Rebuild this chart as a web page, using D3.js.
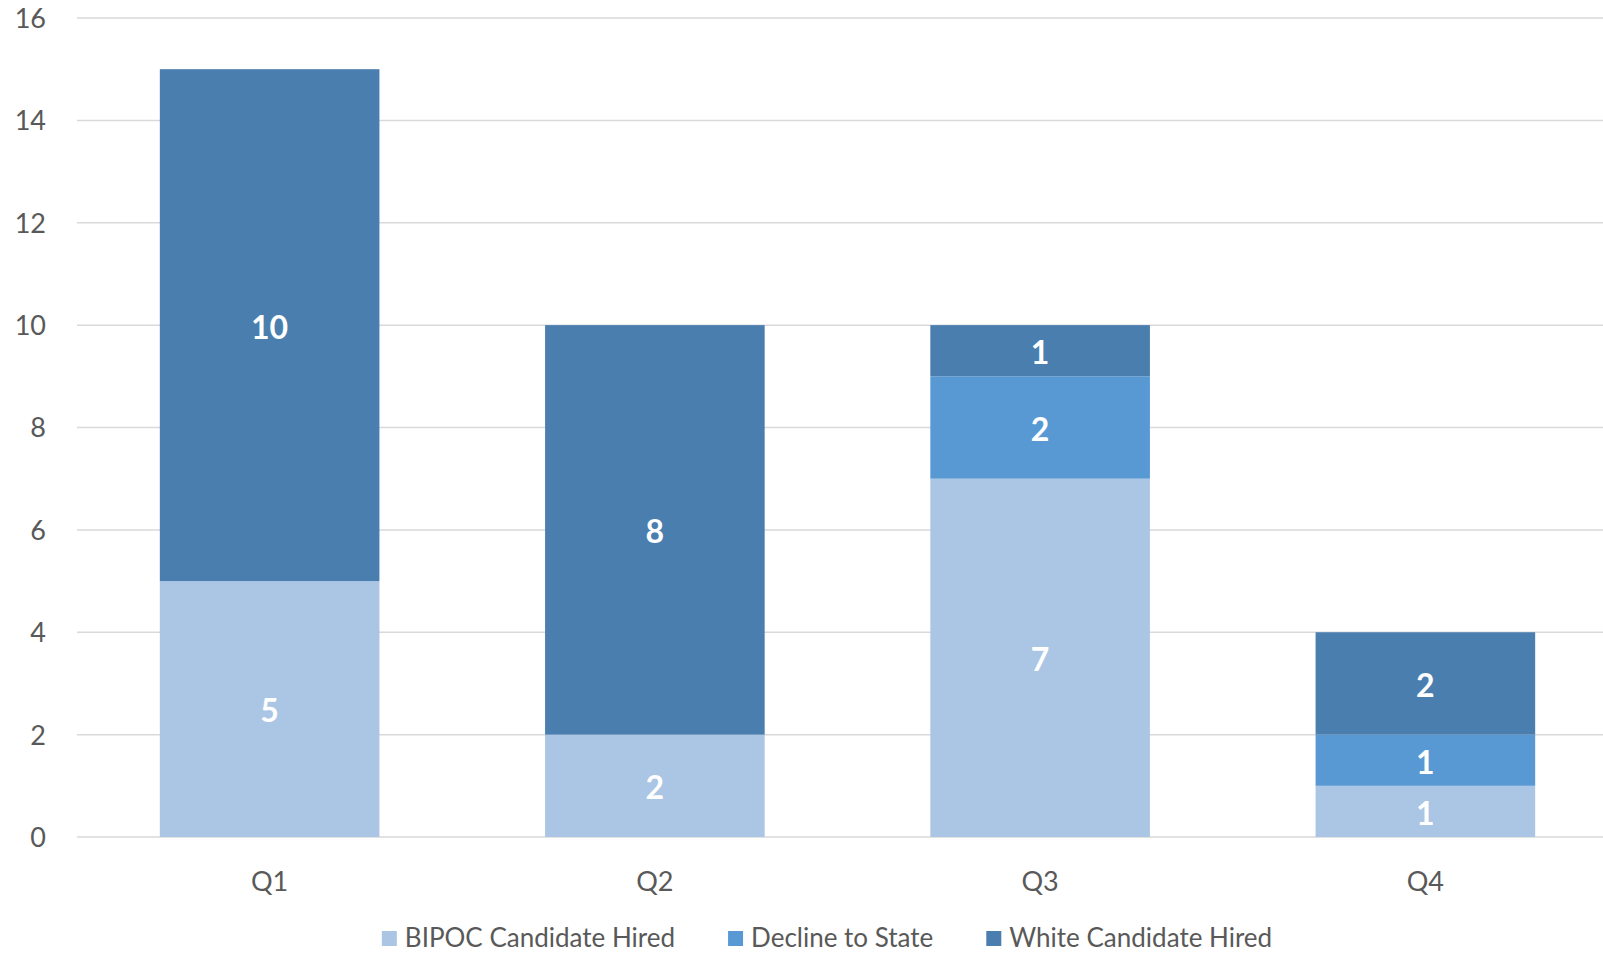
<!DOCTYPE html>
<html><head><meta charset="utf-8">
<script src="https://cdn.jsdelivr.net/npm/d3@7"></script>
<style>
html,body{margin:0;padding:0;background:#fff;overflow:hidden;}
svg{display:block;font-family:Lato, "Open Sans", sans-serif;}
</style></head>
<body>
<svg id="chart" width="1603" height="955"></svg>
<script>
const categories = ["Q1", "Q2", "Q3", "Q4"];
const seriesNames = ["BIPOC Candidate Hired", "Decline to State", "White Candidate Hired"];
const bipoc = [5, 2, 7, 1];
const decline = [0, 0, 2, 1];
const white = [10, 8, 1, 2];
const yTicks = [0, 2, 4, 6, 8, 10, 12, 14, 16];
const colors = ["#abc5e4", "#5899d4", "#4a7eaf"];

const svg = d3.select("#chart");
const x = d3.scaleBand().domain(categories).range([77, 1618]).paddingInner(0.43).paddingOuter(0.215);
const y = d3.scaleLinear().domain([0, 16]).range([837, 18]);

const rows = categories.map((c, i) => ({cat: c, [seriesNames[0]]: bipoc[i], [seriesNames[1]]: decline[i], [seriesNames[2]]: white[i]}));
const stacked = d3.stack().keys(seriesNames)(rows);

// gridlines
const grid = svg.append("g");
grid.selectAll("line").data(yTicks).join("line")
  .attr("x1", 77).attr("x2", 1618)
  .attr("y1", d => y(d)).attr("y2", d => y(d))
  .attr("stroke", "#d9d9d9").attr("stroke-width", 1.5);

// y axis labels
const yAxis = d3.axisLeft(y).tickValues(yTicks).tickSize(0).tickPadding(0);
const ya = svg.append("g").attr("transform", "translate(46,0)").call(yAxis);
ya.select(".domain").remove();
ya.selectAll("text").attr("font-size", 27).attr("fill", "#595959").attr("font-family", "Lato, 'Open Sans', sans-serif").attr("dy", "0.35em");

// bars
const layers = svg.append("g").selectAll("g").data(stacked).join("g")
  .attr("fill", (d, i) => colors[i]);
layers.selectAll("rect").data(d => d.filter(p => p[1] - p[0] > 0)).join("rect")
  .attr("x", d => x(d.data.cat))
  .attr("width", x.bandwidth())
  .attr("y", d => y(d[1]))
  .attr("height", d => y(d[0]) - y(d[1]));

// data labels
const labels = svg.append("g");
stacked.forEach(layer => {
  layer.forEach(p => {
    const v = p[1] - p[0];
    if (v > 0) {
      labels.append("text")
        .attr("x", x(p.data.cat) + x.bandwidth() / 2)
        .attr("y", (y(p[0]) + y(p[1])) / 2)
        .attr("dy", "0.42em")
        .attr("text-anchor", "middle")
        .attr("font-size", 32).attr("font-weight", "bold").attr("fill", "#ffffff")
        .text(v);
    }
  });
});

// x axis labels
const xAxis = d3.axisBottom(x).tickSize(0).tickPadding(0);
const xa = svg.append("g").attr("transform", "translate(0,891)").call(xAxis);
xa.select(".domain").remove();
xa.selectAll("text").attr("font-size", 27).attr("fill", "#595959").attr("font-family", "Lato, 'Open Sans', sans-serif").attr("dy", 0);

// legend
const legend = svg.append("g");
const items = seriesNames.map((n, i) => {
  const g = legend.append("g");
  g.append("rect").attr("width", 15).attr("height", 15).attr("y", -7).attr("fill", colors[i]);
  const t = g.append("text").attr("x", 23).attr("dy", "0.35em").attr("font-size", 26).attr("fill", "#595959").text(n);
  return {g, w: 23 + t.node().getComputedTextLength()};
});
const gap = 53;
const total = d3.sum(items, d => d.w) + gap * (items.length - 1);
let cx = 827 - total / 2;
items.forEach(it => { it.g.attr("transform", `translate(${cx},938)`); cx += it.w + gap; });
</script>
</body></html>
